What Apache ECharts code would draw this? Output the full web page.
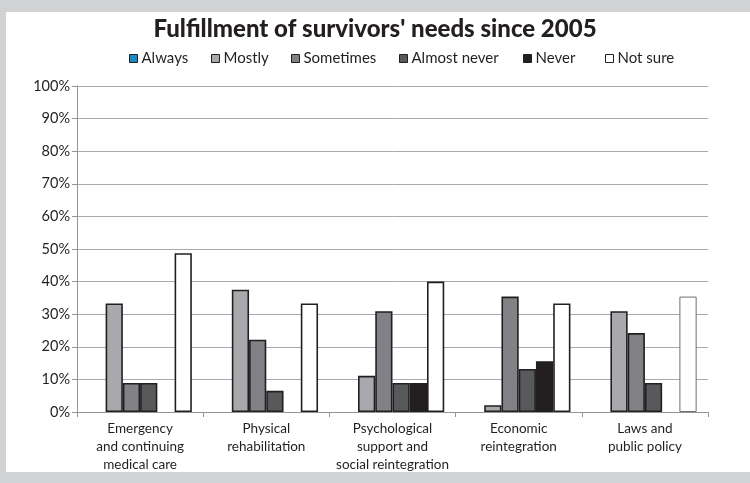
<!DOCTYPE html>
<html>
<head>
<meta charset="utf-8">
<style>
  html, body { margin: 0; padding: 0; background: #d1d2d4; }
  #chart { width: 750px; height: 483px; }
</style>
<script src="https://cdn.jsdelivr.net/npm/echarts@6/dist/echarts.min.js"></script>
</head>
<body>
<div id="chart"></div>
<script>
// Survey: how well survivors' needs have been met since 2005 (share of answers)
const categories = [
  'Emergency\nand continuing\nmedical care',
  'Physical\nrehabilitation',
  'Psychological\nsupport and\nsocial reintegration',
  'Economic\nreintegration',
  'Laws and\npublic policy'
];
const always      = [0, 0, 0, 0, 0];
const mostly      = [33.3, 37.5, 11.1, 2.1, 30.9];
const sometimes   = [8.9, 22.2, 30.9, 35.4, 24.2];
const almostNever = [8.9, 6.5, 8.9, 13.2, 8.9];
const never       = [0, 0, 8.9, 15.6, 0];
const notSure     = [48.7, 33.3, 40.0, 33.3, 35.4];
const yTicks = ['0%', '10%', '20%', '30%', '40%', '50%', '60%', '70%', '80%', '90%', '100%'];

const seriesNames = ['Always', 'Mostly', 'Sometimes', 'Almost never', 'Never', 'Not sure'];
const seriesData  = [always, mostly, sometimes, almostNever, never, notSure];
const fills       = ['#1b8ac4', '#a7a9ac', '#808285', '#58595b', '#231f20', '#ffffff'];

const FONT = 'Lato';

function makeData(values, si) {
  return values.map(function (v, ci) {
    const item = { value: v };
    if (v === 0) item.itemStyle = { borderWidth: 0 };
    // the last "Not sure" column carries a lighter outline
    if (si === 5 && ci === 4) item.itemStyle = { borderColor: '#6d6e71', borderWidth: 1 };
    return item;
  });
}

const series = seriesNames.map(function (name, si) {
  return {
    name: name,
    type: 'bar',
    barGap: '0%',
    barCategoryGap: '18%',
    data: makeData(seriesData[si], si),
    itemStyle: { color: fills[si], borderColor: '#231f20', borderWidth: 1.6 },
    emphasis: { disabled: true }
  };
});

// one legend per entry so each sits at its own spot on the row
const legendLefts = [129, 211, 291, 399, 523, 605];
const legends = seriesNames.map(function (name, i) {
  return {
    data: [name],
    left: legendLefts[i],
    top: 51,
    itemWidth: 8,
    itemHeight: 8,
    itemGap: 0,
    padding: 0,
    icon: 'rect',
    selectedMode: false,
    itemStyle: { borderColor: '#231f20', borderWidth: 1 },
    textStyle: { fontFamily: FONT, fontSize: 15, color: '#231f20', padding: [0, 0, 0, -1] }
  };
});

const chart = echarts.init(document.getElementById('chart'));
chart.setOption({
  backgroundColor: '#d1d2d4',
  animation: false,
  graphic: [{
    type: 'rect',
    z: -10,
    shape: { x: 6, y: 12, width: 744, height: 460 },
    style: { fill: '#ffffff' },
    silent: true
  }],
  title: {
    text: "Fulfillment of survivors' needs since 2005",
    left: 'center',
    top: 12,
    textStyle: { fontFamily: FONT, fontWeight: 900, fontSize: 24, color: '#231f20' }
  },
  legend: legends,
  grid: { left: 77, right: 42, top: 86, bottom: 71, containLabel: false },
  xAxis: {
    type: 'category',
    data: categories,
    axisLine: { lineStyle: { color: '#939598', width: 1 } },
    axisTick: { show: true, length: 5, alignWithLabel: false, lineStyle: { color: '#939598' } },
    axisLabel: {
      fontFamily: FONT, fontSize: 13.5, color: '#231f20', lineHeight: 18, margin: 8, interval: 0
    }
  },
  yAxis: {
    type: 'value',
    min: 0,
    max: 100,
    interval: 10,
    axisLine: { show: true, lineStyle: { color: '#939598', width: 1 } },
    axisTick: { show: true, length: 5, lineStyle: { color: '#939598' } },
    axisLabel: {
      fontFamily: FONT, fontSize: 14.5, color: '#231f20', margin: 7,
      formatter: function (v) { return yTicks[Math.round(v / 10)]; }
    },
    splitLine: { lineStyle: { color: '#a7a9ac', width: 1 } }
  },
  series: series
});
</script>
</body>
</html>
